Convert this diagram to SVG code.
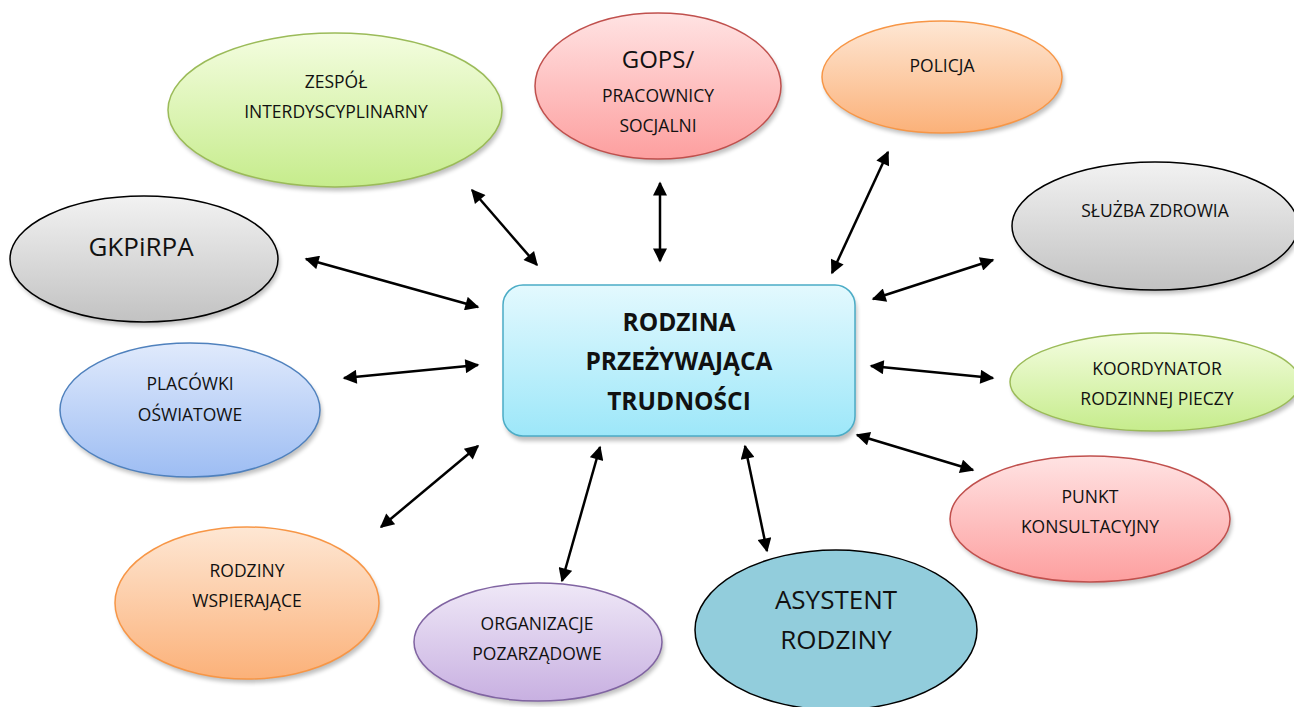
<svg xmlns="http://www.w3.org/2000/svg" width="1294" height="707" viewBox="0 0 1294 707">
<style>
text{font-family:"Open Sans","Liberation Sans",sans-serif;fill:#111;text-anchor:middle}
.t{font-size:17.5px}
.b{font-size:24.5px;font-weight:bold}
.c{stroke-width:2.5;stroke:#000;fill:none}
.sh{fill:#000;opacity:0.25;filter:url(#blur)}
</style>
<defs>
<filter id="blur" x="-10%" y="-10%" width="120%" height="120%"><feGaussianBlur stdDeviation="2"/></filter>
<linearGradient id="gGreen" x1="0" y1="0" x2="0" y2="1"><stop offset="0" stop-color="#f4fde0"/><stop offset="1" stop-color="#c6ec8c"/></linearGradient>
<linearGradient id="gRed" x1="0" y1="0" x2="0" y2="1"><stop offset="0" stop-color="#ffe3e3"/><stop offset="1" stop-color="#fd9f9f"/></linearGradient>
<linearGradient id="gOrange" x1="0" y1="0" x2="0" y2="1"><stop offset="0" stop-color="#fee7d4"/><stop offset="1" stop-color="#fbb179"/></linearGradient>
<linearGradient id="gGray" x1="0" y1="0" x2="0" y2="1"><stop offset="0" stop-color="#f2f2f2"/><stop offset="1" stop-color="#c2c2c2"/></linearGradient>
<linearGradient id="gBlue" x1="0" y1="0" x2="0" y2="1"><stop offset="0" stop-color="#e0eafc"/><stop offset="1" stop-color="#9dbdf3"/></linearGradient>
<linearGradient id="gPurple" x1="0" y1="0" x2="0" y2="1"><stop offset="0" stop-color="#efe8f7"/><stop offset="1" stop-color="#c8b0e1"/></linearGradient>
<linearGradient id="gCyan" x1="0" y1="0" x2="0" y2="1"><stop offset="0" stop-color="#e3f9fe"/><stop offset="1" stop-color="#9de7f9"/></linearGradient>
<marker id="ah" viewBox="0 0 10 10" refX="9" refY="5" markerWidth="6.4" markerHeight="5.6" orient="auto-start-reverse" markerUnits="strokeWidth"><path d="M0,0 L10,5 L0,10 z" fill="#000"/></marker>
</defs>

<g id="connectors">
<line class="c" x1="472" y1="190" x2="537" y2="265" marker-start="url(#ah)" marker-end="url(#ah)"/>
<line class="c" x1="660" y1="183" x2="660" y2="261" marker-start="url(#ah)" marker-end="url(#ah)"/>
<line class="c" x1="888" y1="152" x2="832" y2="273" marker-start="url(#ah)" marker-end="url(#ah)"/>
<line class="c" x1="306" y1="259" x2="478" y2="307" marker-start="url(#ah)" marker-end="url(#ah)"/>
<line class="c" x1="873" y1="299" x2="993" y2="260" marker-start="url(#ah)" marker-end="url(#ah)"/>
<line class="c" x1="344" y1="378" x2="478" y2="365" marker-start="url(#ah)" marker-end="url(#ah)"/>
<line class="c" x1="871" y1="366" x2="993" y2="378" marker-start="url(#ah)" marker-end="url(#ah)"/>
<line class="c" x1="857" y1="435" x2="973" y2="470" marker-start="url(#ah)" marker-end="url(#ah)"/>
<line class="c" x1="381" y1="527" x2="478" y2="446" marker-start="url(#ah)" marker-end="url(#ah)"/>
<line class="c" x1="600" y1="447" x2="562" y2="581" marker-start="url(#ah)" marker-end="url(#ah)"/>
<line class="c" x1="745" y1="446" x2="767" y2="551" marker-start="url(#ah)" marker-end="url(#ah)"/>
</g>

<g id="center">
<rect class="sh" x="505" y="290" width="352" height="151" rx="20"/>
<rect x="503" y="285" width="352" height="151" rx="20" fill="url(#gCyan)" stroke="#4bacc6" stroke-width="1.5"/>
<text class="b" x="679" y="331">RODZINA</text>
<text class="b" x="679" y="370">PRZEŻYWAJĄCA</text>
<text class="b" x="679" y="410">TRUDNOŚCI</text>
</g>

<g id="zespol">
<ellipse class="sh" cx="337" cy="114" rx="167" ry="77"/>
<ellipse cx="335" cy="110" rx="167" ry="77" fill="url(#gGreen)" stroke="#9bbb59" stroke-width="1.5"/>
<text class="t" x="336" y="88">ZESPÓŁ</text>
<text class="t" x="336" y="118">INTERDYSCYPLINARNY</text>
</g>

<g id="gops">
<ellipse class="sh" cx="660" cy="90" rx="123" ry="73"/>
<ellipse cx="658" cy="86" rx="123" ry="73" fill="url(#gRed)" stroke="#c0504d" stroke-width="1.5"/>
<text x="658" y="68" style="font-size:24px">GOPS/</text>
<text class="t" x="658" y="102">PRACOWNICY</text>
<text class="t" x="658" y="132">SOCJALNI</text>
</g>

<g id="policja">
<ellipse class="sh" cx="944" cy="81" rx="120" ry="56"/>
<ellipse cx="942" cy="77" rx="120" ry="56" fill="url(#gOrange)" stroke="#f79646" stroke-width="1.5"/>
<text class="t" x="942" y="72">POLICJA</text>
</g>

<g id="gkpirpa">
<ellipse class="sh" cx="146" cy="263" rx="134" ry="63"/>
<ellipse cx="144" cy="259" rx="134" ry="63" fill="url(#gGray)" stroke="#000" stroke-width="1.5"/>
<text x="141" y="256" style="font-size:26px">GKPiRPA</text>
</g>

<g id="sluzba">
<ellipse class="sh" cx="1157" cy="230" rx="143" ry="64"/>
<ellipse cx="1155" cy="226" rx="143" ry="64" fill="url(#gGray)" stroke="#000" stroke-width="1.5"/>
<text class="t" x="1155" y="217">SŁUŻBA ZDROWIA</text>
</g>

<g id="placowki">
<ellipse class="sh" cx="192" cy="414" rx="130" ry="67"/>
<ellipse cx="190" cy="410" rx="130" ry="67" fill="url(#gBlue)" stroke="#4f81bd" stroke-width="1.5"/>
<text class="t" x="190" y="390">PLACÓWKI</text>
<text class="t" x="190" y="421">OŚWIATOWE</text>
</g>

<g id="koordynator">
<ellipse class="sh" cx="1157" cy="386" rx="145" ry="49"/>
<ellipse cx="1155" cy="382" rx="145" ry="49" fill="url(#gGreen)" stroke="#9bbb59" stroke-width="1.5"/>
<text class="t" x="1157" y="375">KOORDYNATOR</text>
<text class="t" x="1157" y="405">RODZINNEJ PIECZY</text>
</g>

<g id="punkt">
<ellipse class="sh" cx="1092" cy="523" rx="140" ry="63"/>
<ellipse cx="1090" cy="519" rx="140" ry="63" fill="url(#gRed)" stroke="#c0504d" stroke-width="1.5"/>
<text class="t" x="1090" y="503">PUNKT</text>
<text class="t" x="1090" y="533">KONSULTACYJNY</text>
</g>

<g id="rodziny">
<ellipse class="sh" cx="249" cy="607" rx="132" ry="76"/>
<ellipse cx="247" cy="603" rx="132" ry="76" fill="url(#gOrange)" stroke="#f79646" stroke-width="1.5"/>
<text class="t" x="247" y="577">RODZINY</text>
<text class="t" x="247" y="607">WSPIERAJĄCE</text>
</g>

<g id="organizacje">
<ellipse class="sh" cx="540" cy="646" rx="124" ry="59"/>
<ellipse cx="538" cy="642" rx="124" ry="59" fill="url(#gPurple)" stroke="#8064a2" stroke-width="1.5"/>
<text class="t" x="537" y="630">ORGANIZACJE</text>
<text class="t" x="537" y="660">POZARZĄDOWE</text>
</g>

<g id="asystent">
<ellipse cx="836" cy="630" rx="141" ry="80" fill="#92cddc" stroke="#000" stroke-width="1.5"/>
<text x="836" y="609" style="font-size:26px">ASYSTENT</text>
<text x="836" y="649" style="font-size:26px">RODZINY</text>
</g>
</svg>
